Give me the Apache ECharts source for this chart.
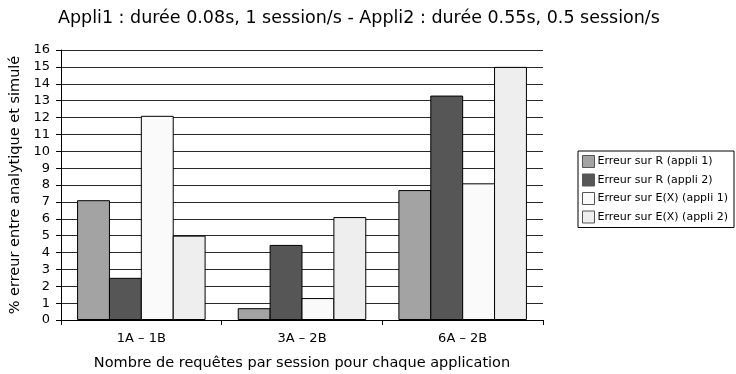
<!DOCTYPE html>
<html>
<head>
<meta charset="utf-8">
<script src="https://cdn.jsdelivr.net/npm/echarts@6/dist/echarts.min.js"></script>
<style>
html,body{margin:0;padding:0;background:#fff;}
#chart{width:736px;height:374px;}
</style>
</head>
<body>
<div id="chart"></div>
<script>
// Categories and values (% error between analytic and simulated results)
var categories = ['1A – 1B', '3A – 2B', '6A – 2B'];
var seriesNames = ['Erreur sur R (appli 1)', 'Erreur sur R (appli 2)', 'Erreur sur E(X) (appli 1)', 'Erreur sur E(X) (appli 2)'];
var errRAppli1 = [7.1, 0.7, 7.7];
var errRAppli2 = [2.5, 4.45, 13.3];
var errEXAppli1 = [12.1, 1.3, 8.1];
var errEXAppli2 = [5.0, 6.1, 15.0];
var yTicks = [0, 1, 2, 3, 4, 5, 6, 7, 8, 9, 10, 11, 12, 13, 14, 15, 16];

var fills = ['#a3a3a3', '#565656', '#fafafa', '#eeeeee'];
var values = [errRAppli1, errRAppli2, errEXAppli1, errEXAppli2];
var font = 'DejaVu Sans';

var chart = echarts.init(document.getElementById('chart'), null, {renderer: 'canvas'});
chart.setOption({
  animation: false,
  backgroundColor: '#ffffff',
  title: {
    text: 'Appli1 : durée 0.08s, 1 session/s - Appli2 : durée 0.55s, 0.5 session/s',
    left: 53,
    top: 4,
    textStyle: {fontFamily: font, fontSize: 17.5, fontWeight: 'normal', color: '#000'}
  },
  legend: {
    orient: 'vertical',
    left: 578,
    top: 151,
    itemWidth: 12,
    itemHeight: 12,
    itemGap: 5.5,
    padding: [4, 6, 4, 4],
    borderColor: '#000',
    borderWidth: 1,
    borderRadius: 0,
    icon: 'rect',
    itemStyle: {borderColor: '#555', borderWidth: 1},
    textStyle: {fontFamily: font, fontSize: 11, color: '#000', padding: [0, 0, 0, -2]},
    data: seriesNames
  },
  grid: {left: 61, right: 193, top: 50, bottom: 54, outerBoundsMode: 'none', containLabel: false},
  xAxis: {
    type: 'category',
    data: categories,
    name: 'Nombre de requêtes par session pour chaque application',
    nameLocation: 'middle',
    nameGap: 36,
    nameTextStyle: {fontFamily: font, fontSize: 14.5, color: '#000'},
    axisLine: {lineStyle: {color: '#000', width: 1}},
    axisTick: {show: true, length: 5, lineStyle: {color: '#000'}},
    axisLabel: {fontFamily: font, fontSize: 13, color: '#000', margin: 12}
  },
  yAxis: {
    type: 'value',
    min: 0,
    max: 16,
    interval: 1,
    name: '% erreur entre analytique et simulé',
    nameLocation: 'middle',
    nameGap: 33,
    nameTextStyle: {fontFamily: font, fontSize: 14.5, color: '#000'},
    axisLine: {show: true, lineStyle: {color: '#000', width: 1}},
    axisTick: {show: true, length: 5, lineStyle: {color: '#000'}},
    axisLabel: {fontFamily: font, fontSize: 13, color: '#000', margin: 11,
      formatter: function (v) { return yTicks.indexOf(v) >= 0 ? String(v) : ''; }},
    splitLine: {show: true, lineStyle: {color: '#2a2a2a', width: 1}}
  },
  series: values.map(function (vals, i) {
    return {
      name: seriesNames[i],
      type: 'bar',
      data: vals,
      barGap: '-3%',
      barCategoryGap: '20%',
      itemStyle: {color: fills[i], borderColor: '#000', borderWidth: 1}
    };
  })
});
</script>
</body>
</html>
